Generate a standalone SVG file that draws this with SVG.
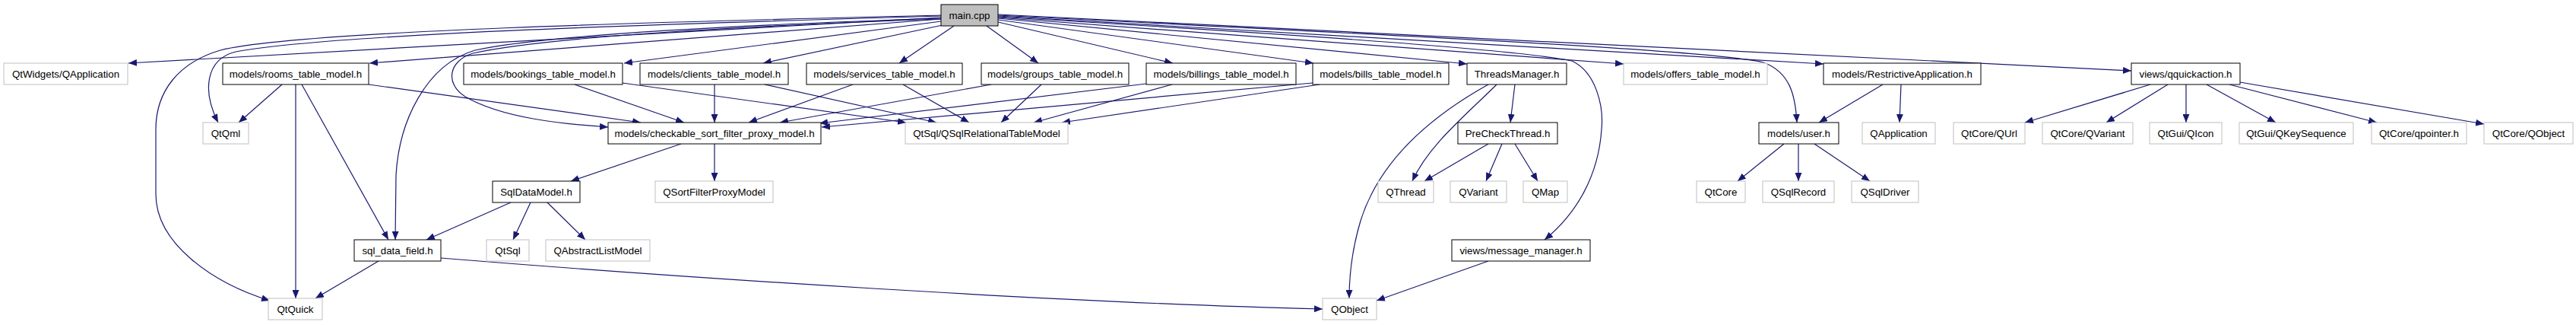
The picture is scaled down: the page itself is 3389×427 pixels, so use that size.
<svg xmlns="http://www.w3.org/2000/svg" width="3389" height="427" viewBox="0 0 3389 427">
<style>
.n rect{fill:#fff;stroke:#000;stroke-width:1}
.x rect{fill:#fff;stroke:#bfbfbf;stroke-width:1}
.m rect{fill:#bfbfbf;stroke:#000;stroke-width:1}
text{font-family:"Liberation Sans",Arial,sans-serif;font-size:13.3px;fill:#000;text-anchor:middle}
#edges path{fill:none;stroke:#191970;stroke-width:1.2;marker-end:url(#a)}
</style>
<defs>
<marker id="a" markerUnits="userSpaceOnUse" markerWidth="12" markerHeight="9" refX="11" refY="4.5" orient="auto"><path d="M0,0 L11,4.5 L0,9 z" fill="#191970"/></marker>
</defs>
<rect width="3389" height="427" fill="#fff"/>
<g id="edges">
<path d="M1238,23 L169,83"/>
<path d="M1238,25 L486,83"/>
<path d="M1238,28 L821,83"/>
<path d="M1240,33 L1004,83"/>
<path d="M1255,34 L1183,83"/>
<path d="M1298,34 L1366,83"/>
<path d="M1313,29 L1543,83"/>
<path d="M1313,26 L1728,83"/>
<path d="M1313,24 L1930,84"/>
<path d="M1313,23 L2136,84"/>
<path d="M1313,21 L2399,84"/>
<path d="M1313,19 L2804,93"/>
<path d="M1313,20 C1800,45 2250,65 2320,82 C2355,95 2362,125 2364,161"/>
<path d="M1313,22 C1750,48 2000,66 2068,80 C2100,95 2110,140 2107,170 C2103,230 2075,280 2032,315"/>
<path d="M1238,21 C1000,28 450,42 310,68 C270,78 266,120 287,161"/>
<path d="M1238,20 C1000,26 400,38 290,66 C235,82 205,120 205,170 L205,255 C205,320 280,372 355,395"/>
<path d="M1238,24 C1000,32 720,45 625,66 C560,85 525,160 521,230 L520,315"/>
<path d="M1238,25 C1000,33 720,48 622,70 C590,80 585,110 612,127 C660,155 740,163 800,167"/>
<path d="M371,111 L314,161"/>
<path d="M389,111 L389,392"/>
<path d="M397,111 L511,315"/>
<path d="M485,111 L843,161"/>
<path d="M756,111 L900,161"/>
<path d="M819,109 L1192,161"/>
<path d="M940,111 L940,161"/>
<path d="M1006,111 L1232,161"/>
<path d="M1122,111 L985,161"/>
<path d="M1188,111 L1275,161"/>
<path d="M1304,111 L1026,161"/>
<path d="M1370,111 L1317,161"/>
<path d="M1508,110 L1078,162"/>
<path d="M1542,111 L1360,161"/>
<path d="M1727,109 L1081,167"/>
<path d="M1736,111 L1397,161"/>
<path d="M896,189 L751,238"/>
<path d="M940,189 L940,238"/>
<path d="M672,266 L561,315"/>
<path d="M698,266 L675,315"/>
<path d="M720,266 L770,315"/>
<path d="M498,343 L415,392"/>
<path d="M580,339 C900,365 1400,398 1740,406"/>
<path d="M1969,111 C1930,150 1880,190 1858,238"/>
<path d="M1958,111 C1870,160 1812,220 1790,290 C1778,330 1775,365 1775,392"/>
<path d="M1993,111 L1987,161"/>
<path d="M1958,189 L1874,238"/>
<path d="M1976,189 L1955,238"/>
<path d="M1993,189 L2023,238"/>
<path d="M1958,343 L1811,395"/>
<path d="M2347,189 L2286,238"/>
<path d="M2366,189 L2366,238"/>
<path d="M2387,189 L2460,238"/>
<path d="M2477,111 L2393,161"/>
<path d="M2501,111 L2499,161"/>
<path d="M2829,111 L2664,161"/>
<path d="M2852,111 L2771,161"/>
<path d="M2876,111 L2876,161"/>
<path d="M2903,111 L2994,161"/>
<path d="M2933,111 L3127,161"/>
<path d="M2947,108 L3268,163"/>
</g>
<g id="main" class="m"><rect x="1238" y="6" width="75" height="28"/><text x="1275.5" y="25">main.cpp</text></g>
<g id="qtwidgets_qapplication" class="x"><rect x="5" y="83" width="163" height="28"/><text x="86.5" y="102">QtWidgets/QApplication</text></g>
<g id="rooms" class="n"><rect x="293" y="83" width="192" height="28"/><text x="389" y="102">models/rooms_table_model.h</text></g>
<g id="bookings" class="n"><rect x="610" y="83" width="209" height="28"/><text x="714.5" y="102">models/bookings_table_model.h</text></g>
<g id="clients" class="n"><rect x="842" y="83" width="195" height="28"/><text x="939.5" y="102">models/clients_table_model.h</text></g>
<g id="services" class="n"><rect x="1061" y="83" width="205" height="28"/><text x="1163.5" y="102">models/services_table_model.h</text></g>
<g id="groups" class="n"><rect x="1291" y="83" width="194" height="28"/><text x="1388" y="102">models/groups_table_model.h</text></g>
<g id="billings" class="n"><rect x="1508" y="83" width="197" height="28"/><text x="1606.5" y="102">models/billings_table_model.h</text></g>
<g id="bills" class="n"><rect x="1727" y="83" width="179" height="28"/><text x="1816.5" y="102">models/bills_table_model.h</text></g>
<g id="threadsmanager" class="n"><rect x="1930" y="83" width="131" height="28"/><text x="1995.5" y="102">ThreadsManager.h</text></g>
<g id="offers" class="x"><rect x="2136" y="83" width="189" height="28"/><text x="2230.5" y="102">models/offers_table_model.h</text></g>
<g id="restrictive" class="n"><rect x="2399" y="83" width="207" height="28"/><text x="2502.5" y="102">models/RestrictiveApplication.h</text></g>
<g id="qquickaction" class="n"><rect x="2804" y="83" width="143" height="28"/><text x="2875.5" y="102">views/qquickaction.h</text></g>
<g id="qtqml" class="x"><rect x="267" y="161" width="60" height="28"/><text x="297" y="180">QtQml</text></g>
<g id="checkable" class="n"><rect x="800" y="161" width="280" height="28"/><text x="940" y="180">models/checkable_sort_filter_proxy_model.h</text></g>
<g id="qsqlrelational" class="x"><rect x="1191" y="161" width="214" height="28"/><text x="1298" y="180">QtSql/QSqlRelationalTableModel</text></g>
<g id="precheckthread" class="n"><rect x="1918" y="161" width="131" height="28"/><text x="1983.5" y="180">PreCheckThread.h</text></g>
<g id="user" class="n"><rect x="2314" y="161" width="105" height="28"/><text x="2366.5" y="180">models/user.h</text></g>
<g id="qapplication" class="x"><rect x="2450" y="161" width="96" height="28"/><text x="2498" y="180">QApplication</text></g>
<g id="qurl" class="x"><rect x="2570" y="161" width="94" height="28"/><text x="2617" y="180">QtCore/QUrl</text></g>
<g id="qtcore_qvariant" class="x"><rect x="2687" y="161" width="119" height="28"/><text x="2746.5" y="180">QtCore/QVariant</text></g>
<g id="qicon" class="x"><rect x="2828" y="161" width="95" height="28"/><text x="2875.5" y="180">QtGui/QIcon</text></g>
<g id="qkeysequence" class="x"><rect x="2946" y="161" width="150" height="28"/><text x="3021" y="180">QtGui/QKeySequence</text></g>
<g id="qpointer" class="x"><rect x="3120" y="161" width="125" height="28"/><text x="3182.5" y="180">QtCore/qpointer.h</text></g>
<g id="qtcore_qobject" class="x"><rect x="3268" y="161" width="117" height="28"/><text x="3326.5" y="180">QtCore/QObject</text></g>
<g id="sqldatamodel" class="n"><rect x="648" y="238" width="115" height="28"/><text x="705.5" y="257">SqlDataModel.h</text></g>
<g id="qsortfilterproxymodel" class="x"><rect x="862" y="238" width="155" height="28"/><text x="939.5" y="257">QSortFilterProxyModel</text></g>
<g id="qthread" class="x"><rect x="1813" y="238" width="73" height="28"/><text x="1849.5" y="257">QThread</text></g>
<g id="qvariant" class="x"><rect x="1908" y="238" width="74" height="28"/><text x="1945" y="257">QVariant</text></g>
<g id="qmap" class="x"><rect x="2004" y="238" width="58" height="28"/><text x="2033" y="257">QMap</text></g>
<g id="qtcore" class="x"><rect x="2232" y="238" width="64" height="28"/><text x="2264" y="257">QtCore</text></g>
<g id="qsqlrecord" class="x"><rect x="2319" y="238" width="94" height="28"/><text x="2366" y="257">QSqlRecord</text></g>
<g id="qsqldriver" class="x"><rect x="2436" y="238" width="88" height="28"/><text x="2480" y="257">QSqlDriver</text></g>
<g id="sql_data_field" class="n"><rect x="466" y="315" width="114" height="28"/><text x="523" y="334">sql_data_field.h</text></g>
<g id="qtsql" class="x"><rect x="640" y="315" width="56" height="28"/><text x="668" y="334">QtSql</text></g>
<g id="qabstractlistmodel" class="x"><rect x="718" y="315" width="137" height="28"/><text x="786.5" y="334">QAbstractListModel</text></g>
<g id="message_manager" class="n"><rect x="1910" y="315" width="182" height="28"/><text x="2001" y="334">views/message_manager.h</text></g>
<g id="qtquick" class="x"><rect x="353" y="392" width="71" height="28"/><text x="388.5" y="411">QtQuick</text></g>
<g id="qobject" class="x"><rect x="1740" y="392" width="71" height="28"/><text x="1775.5" y="411">QObject</text></g>
</svg>
